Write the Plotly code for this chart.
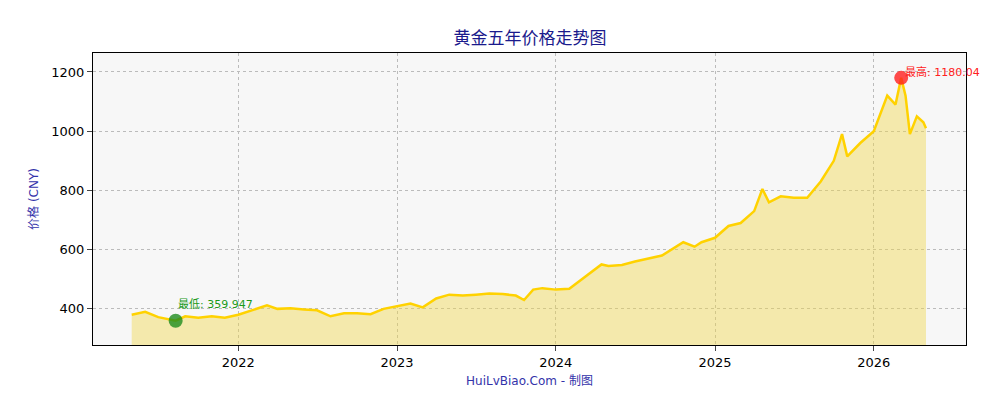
import plotly.graph_objects as go

dates = ["2021-05-01","2021-06-01","2021-07-01","2021-08-10","2021-09-01","2021-10-01","2021-11-01","2021-12-01",
"2022-01-01","2022-02-01","2022-03-08","2022-04-01","2022-05-01","2022-06-01","2022-07-01","2022-08-01","2022-09-01","2022-10-01","2022-11-01","2022-12-01",
"2023-01-01","2023-02-01","2023-03-01","2023-04-01","2023-05-01","2023-06-01","2023-07-01","2023-08-01","2023-09-01","2023-10-01","2023-10-20","2023-11-10","2023-12-01",
"2024-01-01","2024-02-01","2024-03-01","2024-04-15","2024-05-01","2024-06-01","2024-07-01","2024-08-01","2024-09-01","2024-10-20","2024-11-15","2024-12-01",
"2025-01-01","2025-02-01","2025-03-01","2025-04-01","2025-04-20","2025-05-05","2025-06-01","2025-07-01","2025-08-01","2025-09-01","2025-10-01","2025-10-20","2025-11-01","2025-12-01",
"2026-01-01","2026-02-01","2026-02-20","2026-03-05","2026-03-15","2026-03-25","2026-04-10","2026-04-25","2026-05-01"]
prices = [380,390,372,359.947,375,370,375,370,
380,395,412,400,402,398,395,375,385,385,382,400,
410,418,405,435,448,445,448,452,450,445,430,465,470,
465,468,500,550,545,548,560,570,580,625,610,625,
640,680,690,730,805,760,780,775,775,830,900,990,915,960,
1000,1120,1090,1180.04,1120,990,1050,1030,1010]

fig = go.Figure()
fig.add_trace(go.Scatter(x=dates, y=prices, mode="lines", line=dict(color="#FFD200", width=2.5),
    fill="tozeroy", fillcolor="rgba(240,215,80,0.45)", showlegend=False))
imax = prices.index(max(prices)); imin = prices.index(min(prices))
fig.add_trace(go.Scatter(x=[dates[imax]], y=[prices[imax]], mode="markers",
    marker=dict(color="rgba(255,30,30,0.8)", size=14), showlegend=False, cliponaxis=False))
fig.add_trace(go.Scatter(x=[dates[imin]], y=[prices[imin]], mode="markers",
    marker=dict(color="rgba(30,140,30,0.8)", size=14), showlegend=False, cliponaxis=False))
fig.add_annotation(x=dates[imax], y=prices[imax], text="最高: 1180.04", showarrow=False,
    xanchor="left", yanchor="middle", xshift=2, yshift=6, font=dict(color="#FF2020", size=11))
fig.add_annotation(x=dates[imin], y=prices[imin], text="最低: 359.947", showarrow=False,
    xanchor="left", yanchor="middle", xshift=0, yshift=16, font=dict(color="#1a9a1a", size=11))

fig.update_layout(width=1000, height=400, margin=dict(l=85, r=42, t=45, b=63, autoexpand=False),
    paper_bgcolor="white", plot_bgcolor="#f7f7f7",
    font=dict(family="DejaVu Sans, Noto Sans CJK SC", size=13, color="black"),
    title=dict(text="黄金五年价格走势图", x=0.522, y=0.925, xanchor="center", yanchor="middle",
               font=dict(family="Noto Sans CJK SC", size=17, color="#1a1a8c")))
fig.update_xaxes(range=["2021-02-01","2026-08-01"], dtick="M12", tickformat="%Y", ticks="outside",
    automargin=False, showgrid=True, gridcolor="#bbbbbb", gridwidth=0.6, griddash="dot",
    showline=True, linecolor="black", mirror=True,
    title=dict(text="HuiLvBiao.Com - 制图", font=dict(color="#3333aa", size=12), standoff=8))
fig.update_yaxes(range=[278, 1264], tickvals=[400,600,800,1000,1200], ticks="outside",
    automargin=False, showgrid=True, gridcolor="#bbbbbb", gridwidth=0.6, griddash="dot",
    showline=True, linecolor="black", mirror=True,
    zeroline=False, title=dict(text="价格 (CNY)", font=dict(color="#3333aa", size=12), standoff=10))
fig.write_html("out.html")
